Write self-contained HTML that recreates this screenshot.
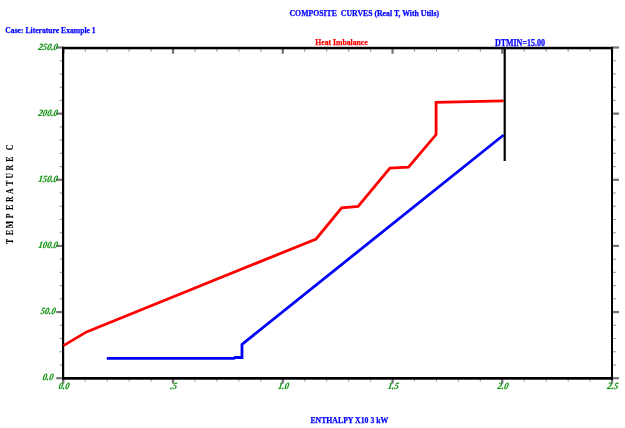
<!DOCTYPE html>
<html><head><meta charset="utf-8"><style>
html,body{margin:0;padding:0;background:#fff;width:625px;height:428px;overflow:hidden}
svg{display:block;will-change:transform;filter:blur(0.45px)}
</style></head><body>
<svg width="625" height="428" viewBox="0 0 625 428">
<rect width="625" height="428" fill="#fff"/>
<line x1="63.30" y1="49" x2="63.30" y2="53.8" stroke="#747474" stroke-width="2.2"/>
<line x1="63.30" y1="379" x2="63.30" y2="383.6" stroke="#747474" stroke-width="2.2"/>
<line x1="85.25" y1="49" x2="85.25" y2="51.8" stroke="#9a9a9a" stroke-width="1.1"/>
<line x1="85.25" y1="379" x2="85.25" y2="381.4" stroke="#9a9a9a" stroke-width="1.1"/>
<line x1="107.20" y1="49" x2="107.20" y2="51.8" stroke="#9a9a9a" stroke-width="1.1"/>
<line x1="107.20" y1="379" x2="107.20" y2="381.4" stroke="#9a9a9a" stroke-width="1.1"/>
<line x1="129.15" y1="49" x2="129.15" y2="51.8" stroke="#9a9a9a" stroke-width="1.1"/>
<line x1="129.15" y1="379" x2="129.15" y2="381.4" stroke="#9a9a9a" stroke-width="1.1"/>
<line x1="151.10" y1="49" x2="151.10" y2="51.8" stroke="#9a9a9a" stroke-width="1.1"/>
<line x1="151.10" y1="379" x2="151.10" y2="381.4" stroke="#9a9a9a" stroke-width="1.1"/>
<line x1="173.05" y1="49" x2="173.05" y2="53.8" stroke="#747474" stroke-width="2.2"/>
<line x1="173.05" y1="379" x2="173.05" y2="383.6" stroke="#747474" stroke-width="2.2"/>
<line x1="195.00" y1="49" x2="195.00" y2="51.8" stroke="#9a9a9a" stroke-width="1.1"/>
<line x1="195.00" y1="379" x2="195.00" y2="381.4" stroke="#9a9a9a" stroke-width="1.1"/>
<line x1="216.95" y1="49" x2="216.95" y2="51.8" stroke="#9a9a9a" stroke-width="1.1"/>
<line x1="216.95" y1="379" x2="216.95" y2="381.4" stroke="#9a9a9a" stroke-width="1.1"/>
<line x1="238.90" y1="49" x2="238.90" y2="51.8" stroke="#9a9a9a" stroke-width="1.1"/>
<line x1="238.90" y1="379" x2="238.90" y2="381.4" stroke="#9a9a9a" stroke-width="1.1"/>
<line x1="260.85" y1="49" x2="260.85" y2="51.8" stroke="#9a9a9a" stroke-width="1.1"/>
<line x1="260.85" y1="379" x2="260.85" y2="381.4" stroke="#9a9a9a" stroke-width="1.1"/>
<line x1="282.80" y1="49" x2="282.80" y2="53.8" stroke="#747474" stroke-width="2.2"/>
<line x1="282.80" y1="379" x2="282.80" y2="383.6" stroke="#747474" stroke-width="2.2"/>
<line x1="304.75" y1="49" x2="304.75" y2="51.8" stroke="#9a9a9a" stroke-width="1.1"/>
<line x1="304.75" y1="379" x2="304.75" y2="381.4" stroke="#9a9a9a" stroke-width="1.1"/>
<line x1="326.70" y1="49" x2="326.70" y2="51.8" stroke="#9a9a9a" stroke-width="1.1"/>
<line x1="326.70" y1="379" x2="326.70" y2="381.4" stroke="#9a9a9a" stroke-width="1.1"/>
<line x1="348.65" y1="49" x2="348.65" y2="51.8" stroke="#9a9a9a" stroke-width="1.1"/>
<line x1="348.65" y1="379" x2="348.65" y2="381.4" stroke="#9a9a9a" stroke-width="1.1"/>
<line x1="370.60" y1="49" x2="370.60" y2="51.8" stroke="#9a9a9a" stroke-width="1.1"/>
<line x1="370.60" y1="379" x2="370.60" y2="381.4" stroke="#9a9a9a" stroke-width="1.1"/>
<line x1="392.55" y1="49" x2="392.55" y2="53.8" stroke="#747474" stroke-width="2.2"/>
<line x1="392.55" y1="379" x2="392.55" y2="383.6" stroke="#747474" stroke-width="2.2"/>
<line x1="414.50" y1="49" x2="414.50" y2="51.8" stroke="#9a9a9a" stroke-width="1.1"/>
<line x1="414.50" y1="379" x2="414.50" y2="381.4" stroke="#9a9a9a" stroke-width="1.1"/>
<line x1="436.45" y1="49" x2="436.45" y2="51.8" stroke="#9a9a9a" stroke-width="1.1"/>
<line x1="436.45" y1="379" x2="436.45" y2="381.4" stroke="#9a9a9a" stroke-width="1.1"/>
<line x1="458.40" y1="49" x2="458.40" y2="51.8" stroke="#9a9a9a" stroke-width="1.1"/>
<line x1="458.40" y1="379" x2="458.40" y2="381.4" stroke="#9a9a9a" stroke-width="1.1"/>
<line x1="480.35" y1="49" x2="480.35" y2="51.8" stroke="#9a9a9a" stroke-width="1.1"/>
<line x1="480.35" y1="379" x2="480.35" y2="381.4" stroke="#9a9a9a" stroke-width="1.1"/>
<line x1="502.30" y1="49" x2="502.30" y2="53.8" stroke="#747474" stroke-width="2.2"/>
<line x1="502.30" y1="379" x2="502.30" y2="383.6" stroke="#747474" stroke-width="2.2"/>
<line x1="524.25" y1="49" x2="524.25" y2="51.8" stroke="#9a9a9a" stroke-width="1.1"/>
<line x1="524.25" y1="379" x2="524.25" y2="381.4" stroke="#9a9a9a" stroke-width="1.1"/>
<line x1="546.20" y1="49" x2="546.20" y2="51.8" stroke="#9a9a9a" stroke-width="1.1"/>
<line x1="546.20" y1="379" x2="546.20" y2="381.4" stroke="#9a9a9a" stroke-width="1.1"/>
<line x1="568.15" y1="49" x2="568.15" y2="51.8" stroke="#9a9a9a" stroke-width="1.1"/>
<line x1="568.15" y1="379" x2="568.15" y2="381.4" stroke="#9a9a9a" stroke-width="1.1"/>
<line x1="590.10" y1="49" x2="590.10" y2="51.8" stroke="#9a9a9a" stroke-width="1.1"/>
<line x1="590.10" y1="379" x2="590.10" y2="381.4" stroke="#9a9a9a" stroke-width="1.1"/>
<line x1="612.05" y1="49" x2="612.05" y2="53.8" stroke="#747474" stroke-width="2.2"/>
<line x1="612.05" y1="379" x2="612.05" y2="383.6" stroke="#747474" stroke-width="2.2"/>
<line x1="56.2" y1="378.20" x2="62.5" y2="378.20" stroke="#747474" stroke-width="2.2"/>
<line x1="613" y1="378.20" x2="619" y2="378.20" stroke="#747474" stroke-width="2.2"/>
<line x1="59.6" y1="364.97" x2="62.5" y2="364.97" stroke="#9a9a9a" stroke-width="1.1"/>
<line x1="613" y1="364.97" x2="615.8" y2="364.97" stroke="#9a9a9a" stroke-width="1.1"/>
<line x1="59.6" y1="351.74" x2="62.5" y2="351.74" stroke="#9a9a9a" stroke-width="1.1"/>
<line x1="613" y1="351.74" x2="615.8" y2="351.74" stroke="#9a9a9a" stroke-width="1.1"/>
<line x1="59.6" y1="338.52" x2="62.5" y2="338.52" stroke="#9a9a9a" stroke-width="1.1"/>
<line x1="613" y1="338.52" x2="615.8" y2="338.52" stroke="#9a9a9a" stroke-width="1.1"/>
<line x1="59.6" y1="325.29" x2="62.5" y2="325.29" stroke="#9a9a9a" stroke-width="1.1"/>
<line x1="613" y1="325.29" x2="615.8" y2="325.29" stroke="#9a9a9a" stroke-width="1.1"/>
<line x1="56.2" y1="312.06" x2="62.5" y2="312.06" stroke="#747474" stroke-width="2.2"/>
<line x1="613" y1="312.06" x2="619" y2="312.06" stroke="#747474" stroke-width="2.2"/>
<line x1="59.6" y1="298.83" x2="62.5" y2="298.83" stroke="#9a9a9a" stroke-width="1.1"/>
<line x1="613" y1="298.83" x2="615.8" y2="298.83" stroke="#9a9a9a" stroke-width="1.1"/>
<line x1="59.6" y1="285.60" x2="62.5" y2="285.60" stroke="#9a9a9a" stroke-width="1.1"/>
<line x1="613" y1="285.60" x2="615.8" y2="285.60" stroke="#9a9a9a" stroke-width="1.1"/>
<line x1="59.6" y1="272.38" x2="62.5" y2="272.38" stroke="#9a9a9a" stroke-width="1.1"/>
<line x1="613" y1="272.38" x2="615.8" y2="272.38" stroke="#9a9a9a" stroke-width="1.1"/>
<line x1="59.6" y1="259.15" x2="62.5" y2="259.15" stroke="#9a9a9a" stroke-width="1.1"/>
<line x1="613" y1="259.15" x2="615.8" y2="259.15" stroke="#9a9a9a" stroke-width="1.1"/>
<line x1="56.2" y1="245.92" x2="62.5" y2="245.92" stroke="#747474" stroke-width="2.2"/>
<line x1="613" y1="245.92" x2="619" y2="245.92" stroke="#747474" stroke-width="2.2"/>
<line x1="59.6" y1="232.69" x2="62.5" y2="232.69" stroke="#9a9a9a" stroke-width="1.1"/>
<line x1="613" y1="232.69" x2="615.8" y2="232.69" stroke="#9a9a9a" stroke-width="1.1"/>
<line x1="59.6" y1="219.46" x2="62.5" y2="219.46" stroke="#9a9a9a" stroke-width="1.1"/>
<line x1="613" y1="219.46" x2="615.8" y2="219.46" stroke="#9a9a9a" stroke-width="1.1"/>
<line x1="59.6" y1="206.24" x2="62.5" y2="206.24" stroke="#9a9a9a" stroke-width="1.1"/>
<line x1="613" y1="206.24" x2="615.8" y2="206.24" stroke="#9a9a9a" stroke-width="1.1"/>
<line x1="59.6" y1="193.01" x2="62.5" y2="193.01" stroke="#9a9a9a" stroke-width="1.1"/>
<line x1="613" y1="193.01" x2="615.8" y2="193.01" stroke="#9a9a9a" stroke-width="1.1"/>
<line x1="56.2" y1="179.78" x2="62.5" y2="179.78" stroke="#747474" stroke-width="2.2"/>
<line x1="613" y1="179.78" x2="619" y2="179.78" stroke="#747474" stroke-width="2.2"/>
<line x1="59.6" y1="166.55" x2="62.5" y2="166.55" stroke="#9a9a9a" stroke-width="1.1"/>
<line x1="613" y1="166.55" x2="615.8" y2="166.55" stroke="#9a9a9a" stroke-width="1.1"/>
<line x1="59.6" y1="153.32" x2="62.5" y2="153.32" stroke="#9a9a9a" stroke-width="1.1"/>
<line x1="613" y1="153.32" x2="615.8" y2="153.32" stroke="#9a9a9a" stroke-width="1.1"/>
<line x1="59.6" y1="140.10" x2="62.5" y2="140.10" stroke="#9a9a9a" stroke-width="1.1"/>
<line x1="613" y1="140.10" x2="615.8" y2="140.10" stroke="#9a9a9a" stroke-width="1.1"/>
<line x1="59.6" y1="126.87" x2="62.5" y2="126.87" stroke="#9a9a9a" stroke-width="1.1"/>
<line x1="613" y1="126.87" x2="615.8" y2="126.87" stroke="#9a9a9a" stroke-width="1.1"/>
<line x1="56.2" y1="113.64" x2="62.5" y2="113.64" stroke="#747474" stroke-width="2.2"/>
<line x1="613" y1="113.64" x2="619" y2="113.64" stroke="#747474" stroke-width="2.2"/>
<line x1="59.6" y1="100.41" x2="62.5" y2="100.41" stroke="#9a9a9a" stroke-width="1.1"/>
<line x1="613" y1="100.41" x2="615.8" y2="100.41" stroke="#9a9a9a" stroke-width="1.1"/>
<line x1="59.6" y1="87.18" x2="62.5" y2="87.18" stroke="#9a9a9a" stroke-width="1.1"/>
<line x1="613" y1="87.18" x2="615.8" y2="87.18" stroke="#9a9a9a" stroke-width="1.1"/>
<line x1="59.6" y1="73.96" x2="62.5" y2="73.96" stroke="#9a9a9a" stroke-width="1.1"/>
<line x1="613" y1="73.96" x2="615.8" y2="73.96" stroke="#9a9a9a" stroke-width="1.1"/>
<line x1="59.6" y1="60.73" x2="62.5" y2="60.73" stroke="#9a9a9a" stroke-width="1.1"/>
<line x1="613" y1="60.73" x2="615.8" y2="60.73" stroke="#9a9a9a" stroke-width="1.1"/>
<line x1="56.2" y1="47.50" x2="62.5" y2="47.50" stroke="#747474" stroke-width="2.2"/>
<line x1="613" y1="47.50" x2="619" y2="47.50" stroke="#747474" stroke-width="2.2"/>
<rect x="62" y="46.8" width="551" height="2.5" fill="#000"/>
<rect x="62" y="377" width="551" height="2.7" fill="#000"/>
<rect x="62" y="46.8" width="2.2" height="332.9" fill="#000"/>
<rect x="611" y="46.8" width="2.0" height="332.9" fill="#000"/>
<polyline points="63.5,345.6 86.5,331.9 316.1,239.0 341.6,207.9 358.1,206.5 389.9,168.1 408.5,167.2 436.1,134.6 436.1,102.4 503.6,100.8" fill="none" stroke="#ff0000" stroke-width="2.8" stroke-linejoin="miter"/>
<polyline points="106.8,358.3 234.0,358.3 235.0,357.5 242.0,357.5 242.0,344.3 503.6,135.0" fill="none" stroke="#0000ff" stroke-width="2.8" stroke-linejoin="miter"/>
<rect x="503.6" y="47" width="2.2" height="114" fill="#000"/>
<text x="289.5" y="16.4" font-size="8.9" font-family="Liberation Serif" font-weight="bold" fill="#0000ff" stroke="#0000ff" stroke-width="0.25" textLength="149.5" lengthAdjust="spacingAndGlyphs" >COMPOSITE&#160;&#160;CURVES (Real T, With Utils)</text>
<text x="5.3" y="33.1" font-size="9.2" font-family="Liberation Serif" font-weight="bold" fill="#0000ff" stroke="#0000ff" stroke-width="0.25" textLength="90.4" lengthAdjust="spacingAndGlyphs" >Case: Literature Example 1</text>
<text x="315.3" y="45.4" font-size="9.2" font-family="Liberation Serif" font-weight="bold" fill="#ff0000" stroke="#ff0000" stroke-width="0.25" textLength="52.4" lengthAdjust="spacingAndGlyphs" >Heat Imbalance</text>
<text x="494.9" y="45.5" font-size="9.4" font-family="Liberation Serif" font-weight="bold" fill="#0000ff" stroke="#0000ff" stroke-width="0.25" textLength="50.0" lengthAdjust="spacingAndGlyphs" >DTMIN=15.00</text>
<text x="310.4" y="422.6" font-size="9.0" font-family="Liberation Serif" font-weight="bold" fill="#0000ff" stroke="#0000ff" stroke-width="0.25" textLength="77.9" lengthAdjust="spacingAndGlyphs" >ENTHALPY X10 3 kW</text>
<text transform="translate(13.2,241.5) rotate(-90) scale(0.8,1)" x="0" y="0" font-size="9.6" font-family="Liberation Serif" font-weight="bold" fill="#000" stroke="#000" stroke-width="0.15" text-anchor="middle">T</text>
<text transform="translate(13.2,232.75) rotate(-90) scale(0.8,1)" x="0" y="0" font-size="9.6" font-family="Liberation Serif" font-weight="bold" fill="#000" stroke="#000" stroke-width="0.15" text-anchor="middle">E</text>
<text transform="translate(13.2,224.6) rotate(-90) scale(0.8,1)" x="0" y="0" font-size="9.6" font-family="Liberation Serif" font-weight="bold" fill="#000" stroke="#000" stroke-width="0.15" text-anchor="middle">M</text>
<text transform="translate(13.2,216.0) rotate(-90) scale(0.8,1)" x="0" y="0" font-size="9.6" font-family="Liberation Serif" font-weight="bold" fill="#000" stroke="#000" stroke-width="0.15" text-anchor="middle">P</text>
<text transform="translate(13.2,207.5) rotate(-90) scale(0.8,1)" x="0" y="0" font-size="9.6" font-family="Liberation Serif" font-weight="bold" fill="#000" stroke="#000" stroke-width="0.15" text-anchor="middle">E</text>
<text transform="translate(13.2,199.35) rotate(-90) scale(0.8,1)" x="0" y="0" font-size="9.6" font-family="Liberation Serif" font-weight="bold" fill="#000" stroke="#000" stroke-width="0.15" text-anchor="middle">R</text>
<text transform="translate(13.2,191.15) rotate(-90) scale(0.8,1)" x="0" y="0" font-size="9.6" font-family="Liberation Serif" font-weight="bold" fill="#000" stroke="#000" stroke-width="0.15" text-anchor="middle">A</text>
<text transform="translate(13.2,183.2) rotate(-90) scale(0.8,1)" x="0" y="0" font-size="9.6" font-family="Liberation Serif" font-weight="bold" fill="#000" stroke="#000" stroke-width="0.15" text-anchor="middle">T</text>
<text transform="translate(13.2,175.65) rotate(-90) scale(0.8,1)" x="0" y="0" font-size="9.6" font-family="Liberation Serif" font-weight="bold" fill="#000" stroke="#000" stroke-width="0.15" text-anchor="middle">U</text>
<text transform="translate(13.2,167.75) rotate(-90) scale(0.8,1)" x="0" y="0" font-size="9.6" font-family="Liberation Serif" font-weight="bold" fill="#000" stroke="#000" stroke-width="0.15" text-anchor="middle">R</text>
<text transform="translate(13.2,159.3) rotate(-90) scale(0.8,1)" x="0" y="0" font-size="9.6" font-family="Liberation Serif" font-weight="bold" fill="#000" stroke="#000" stroke-width="0.15" text-anchor="middle">E</text>
<text transform="translate(13.2,147.4) rotate(-90) scale(0.8,1)" x="0" y="0" font-size="9.6" font-family="Liberation Serif" font-weight="bold" fill="#000" stroke="#000" stroke-width="0.15" text-anchor="middle">C</text>
<text transform="translate(47.7,380.20) skewX(-10)" x="0" y="0" font-size="9.6" font-family="Liberation Serif" font-style="italic" font-weight="bold" fill="#089008" stroke="#089008" stroke-width="0.15" text-anchor="middle" textLength="10.80" lengthAdjust="spacingAndGlyphs">0.0</text>
<text transform="translate(47.7,314.06) skewX(-10)" x="0" y="0" font-size="9.6" font-family="Liberation Serif" font-style="italic" font-weight="bold" fill="#089008" stroke="#089008" stroke-width="0.15" text-anchor="middle" textLength="15.12" lengthAdjust="spacingAndGlyphs">50.0</text>
<text transform="translate(47.7,247.92) skewX(-10)" x="0" y="0" font-size="9.6" font-family="Liberation Serif" font-style="italic" font-weight="bold" fill="#089008" stroke="#089008" stroke-width="0.15" text-anchor="middle" textLength="19.44" lengthAdjust="spacingAndGlyphs">100.0</text>
<text transform="translate(47.7,181.78) skewX(-10)" x="0" y="0" font-size="9.6" font-family="Liberation Serif" font-style="italic" font-weight="bold" fill="#089008" stroke="#089008" stroke-width="0.15" text-anchor="middle" textLength="19.44" lengthAdjust="spacingAndGlyphs">150.0</text>
<text transform="translate(47.7,115.64) skewX(-10)" x="0" y="0" font-size="9.6" font-family="Liberation Serif" font-style="italic" font-weight="bold" fill="#089008" stroke="#089008" stroke-width="0.15" text-anchor="middle" textLength="19.44" lengthAdjust="spacingAndGlyphs">200.0</text>
<text transform="translate(47.7,49.50) skewX(-10)" x="0" y="0" font-size="9.6" font-family="Liberation Serif" font-style="italic" font-weight="bold" fill="#089008" stroke="#089008" stroke-width="0.15" text-anchor="middle" textLength="19.44" lengthAdjust="spacingAndGlyphs">250.0</text>
<text transform="translate(63.60,388.7) skewX(-10)" x="0" y="0" font-size="9.6" font-family="Liberation Serif" font-style="italic" font-weight="bold" fill="#089008" stroke="#089008" stroke-width="0.15" text-anchor="middle" textLength="10.80" lengthAdjust="spacingAndGlyphs">0.0</text>
<text transform="translate(173.35,388.7) skewX(-10)" x="0" y="0" font-size="9.6" font-family="Liberation Serif" font-style="italic" font-weight="bold" fill="#089008" stroke="#089008" stroke-width="0.15" text-anchor="middle" textLength="6.48" lengthAdjust="spacingAndGlyphs">.5</text>
<text transform="translate(283.10,388.7) skewX(-10)" x="0" y="0" font-size="9.6" font-family="Liberation Serif" font-style="italic" font-weight="bold" fill="#089008" stroke="#089008" stroke-width="0.15" text-anchor="middle" textLength="10.80" lengthAdjust="spacingAndGlyphs">1.0</text>
<text transform="translate(392.85,388.7) skewX(-10)" x="0" y="0" font-size="9.6" font-family="Liberation Serif" font-style="italic" font-weight="bold" fill="#089008" stroke="#089008" stroke-width="0.15" text-anchor="middle" textLength="10.80" lengthAdjust="spacingAndGlyphs">1.5</text>
<text transform="translate(502.60,388.7) skewX(-10)" x="0" y="0" font-size="9.6" font-family="Liberation Serif" font-style="italic" font-weight="bold" fill="#089008" stroke="#089008" stroke-width="0.15" text-anchor="middle" textLength="10.80" lengthAdjust="spacingAndGlyphs">2.0</text>
<text transform="translate(612.35,388.7) skewX(-10)" x="0" y="0" font-size="9.6" font-family="Liberation Serif" font-style="italic" font-weight="bold" fill="#089008" stroke="#089008" stroke-width="0.15" text-anchor="middle" textLength="10.80" lengthAdjust="spacingAndGlyphs">2.5</text>
</svg>
</body></html>
